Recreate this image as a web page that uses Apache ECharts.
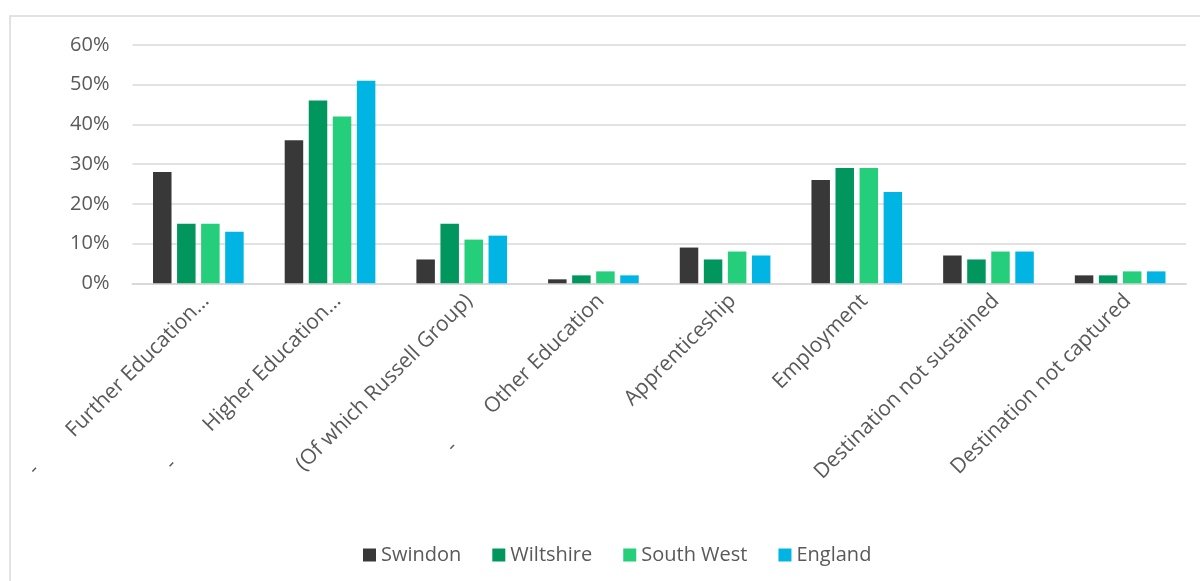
<!DOCTYPE html>
<html>
<head>
<meta charset="utf-8">
<script src="https://cdn.jsdelivr.net/npm/echarts@6/dist/echarts.min.js"></script>
<style>
html,body{margin:0;padding:0;background:#fff;}
#chart{width:1200px;height:581px;}
</style>
</head>
<body>
<div id="chart"></div>
<script>
const categories = ['Further Education…', 'Higher Education…', '(Of which Russell Group)', 'Other Education', 'Apprenticeship', 'Employment', 'Destination not sustained', 'Destination not captured'];
const dashPrefix = [true, true, false, true, false, false, false, false];
const seriesNames = ['Swindon', 'Wiltshire', 'South West', 'England'];
const swindon = [28, 36, 6, 1, 9, 26, 7, 2];
const wiltshire = [15, 46, 15, 2, 6, 29, 6, 2];
const southWest = [15, 42, 11, 3, 8, 29, 8, 3];
const england = [13, 51, 12, 2, 7, 23, 8, 3];
const yTicks = [0, 10, 20, 30, 40, 50, 60];

const colors = ['#383838', '#00965E', '#25CE7B', '#00B4E3'];
const values = [swindon, wiltshire, southWest, england];
const font = "'Open Sans', 'Liberation Sans', sans-serif";
const txt = '#595959';

const chart = echarts.init(document.getElementById('chart'), null, {renderer: 'canvas'});
chart.setOption({
  animation: false,
  color: colors,
  graphic: [{
    type: 'rect', silent: true,
    shape: {x: 10, y: 16, width: 1400, height: 800},
    style: {fill: null, stroke: '#d9d9d9', lineWidth: 1.5}
  }],
  grid: {left: 132.5, right: 14, top: 45, bottom: 297.7, containLabel: false},
  legend: {
    data: seriesNames,
    left: 358, top: 540,
    itemWidth: 13, itemHeight: 13, itemGap: 31,
    icon: 'rect',
    textStyle: {fontFamily: font, fontSize: 20, color: txt}
  },
  xAxis: {
    type: 'category',
    data: categories,
    axisTick: {show: false},
    axisLine: {show: true, lineStyle: {color: '#d9d9d9', width: 2}},
    axisLabel: {
      interval: 0, rotate: 45, margin: 7, verticalAlign: 'top',
      fontFamily: font, fontSize: 21, color: txt,
      formatter: function (v, i) {
        return dashPrefix[i] ? '{d|-}{t|' + v + '}' : '{t|' + v + '}';
      },
      rich: {
        d: {fontFamily: font, fontSize: 21, color: txt, width: 54, align: 'left'},
        t: {fontFamily: font, fontSize: 21, color: txt}
      }
    }
  },
  yAxis: {
    type: 'value',
    min: yTicks[0], max: yTicks[yTicks.length - 1], interval: 10,
    axisLine: {show: false},
    axisTick: {show: false},
    splitLine: {lineStyle: {color: '#d9d9d9', width: 1.5}},
    axisLabel: {
      margin: 23, fontFamily: font, fontSize: 20, color: txt,
      formatter: '{value}%'
    }
  },
  series: seriesNames.map((n, k) => ({
    name: n, type: 'bar', data: values[k],
    barWidth: 18.5, barGap: '30%',
    itemStyle: {color: colors[k]}
  }))
});
</script>
</body>
</html>
